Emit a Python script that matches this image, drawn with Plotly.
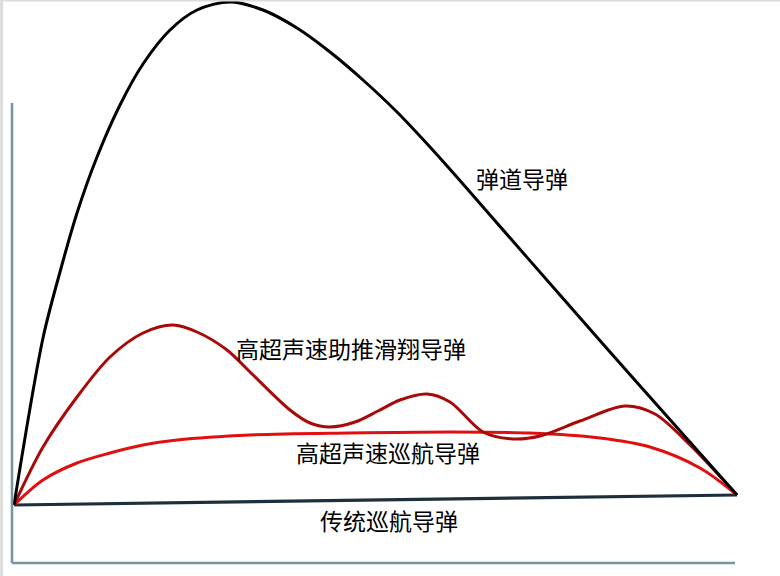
import plotly.graph_objects as go

# Coordinates: distance (x) and altitude (y), arbitrary units
ballistic_x = [14, 43, 60, 77, 97, 120, 143, 170, 197, 230, 263, 297, 330, 363, 397, 430, 463, 490, 560, 633, 737]
ballistic_y = [71, 238, 304, 363, 419, 471, 512, 546, 566, 574, 566, 548, 524, 496, 464, 429, 392, 361, 281, 198, 81]

glide_x = [14, 43, 77, 110, 143, 173, 197, 227, 250, 290, 310, 330, 355, 378, 400, 427, 450, 483, 513, 540, 580, 625, 655, 690, 737]
glide_y = [71, 129, 179, 219, 243, 251, 244, 226, 204, 166, 153, 149, 154, 165, 176, 182, 174, 144, 137, 140, 155, 170, 162, 131, 81]

cruise_x = [14, 43, 77, 110, 143, 177, 250, 350, 450, 530, 600, 650, 700, 737]
cruise_y = [71, 96, 113, 123, 131, 136, 141, 143, 144, 143, 138, 129, 108, 81]

trad_x = [14, 737]
trad_y = [71, 81]

labels = ["弹道导弹", "高超声速助推滑翔导弹", "高超声速巡航导弹", "传统巡航导弹"]
label_x = [522, 351, 388, 389]
label_y = [398, 228, 124, 56]

fig = go.Figure()
fig.add_trace(go.Scatter(x=trad_x, y=trad_y, mode="lines",
                         line=dict(color="#1e2f3c", width=3.2), hoverinfo="skip"))
fig.add_trace(go.Scatter(x=cruise_x, y=cruise_y, mode="lines",
                         line=dict(color="#e01010", width=3, shape="spline", smoothing=0.9), hoverinfo="skip"))
fig.add_trace(go.Scatter(x=glide_x, y=glide_y, mode="lines",
                         line=dict(color="#a80a0a", width=3, shape="spline", smoothing=0.9), hoverinfo="skip"))
fig.add_trace(go.Scatter(x=ballistic_x, y=ballistic_y, mode="lines",
                         line=dict(color="#000000", width=3, shape="spline", smoothing=0.9), hoverinfo="skip"))

for t, lx, ly in zip(labels, label_x, label_y):
    fig.add_annotation(x=lx, y=ly, text=t, showarrow=False,
                       font=dict(family="Noto Sans CJK SC", size=23, color="#000000"))

# frame axes (left and bottom)
fig.add_shape(type="line", x0=12, x1=12, y0=13, y1=473, line=dict(color="#7893a3", width=2.5))
fig.add_shape(type="line", x0=12, x1=735, y0=13, y1=13, line=dict(color="#7893a3", width=2.5))
# light page border (top and left)
fig.add_shape(type="line", xref="paper", yref="paper", x0=0, x1=1, y0=0.999, y1=0.999,
              line=dict(color="#dcdcdc", width=2))
fig.add_shape(type="line", xref="paper", yref="paper", x0=0.002, x1=0.002, y0=0, y1=1,
              line=dict(color="#dcdcdc", width=3))

fig.update_layout(width=780, height=576, margin=dict(l=0, r=0, t=0, b=0),
                  paper_bgcolor="white", plot_bgcolor="white", showlegend=False,
                  xaxis=dict(range=[0, 780], visible=False, fixedrange=True),
                  yaxis=dict(range=[0, 576], visible=False, fixedrange=True))

fig.write_html("out.html", config={"displayModeBar": False},
               post_script="document.body.style.margin='0';document.body.style.overflow='hidden';")
